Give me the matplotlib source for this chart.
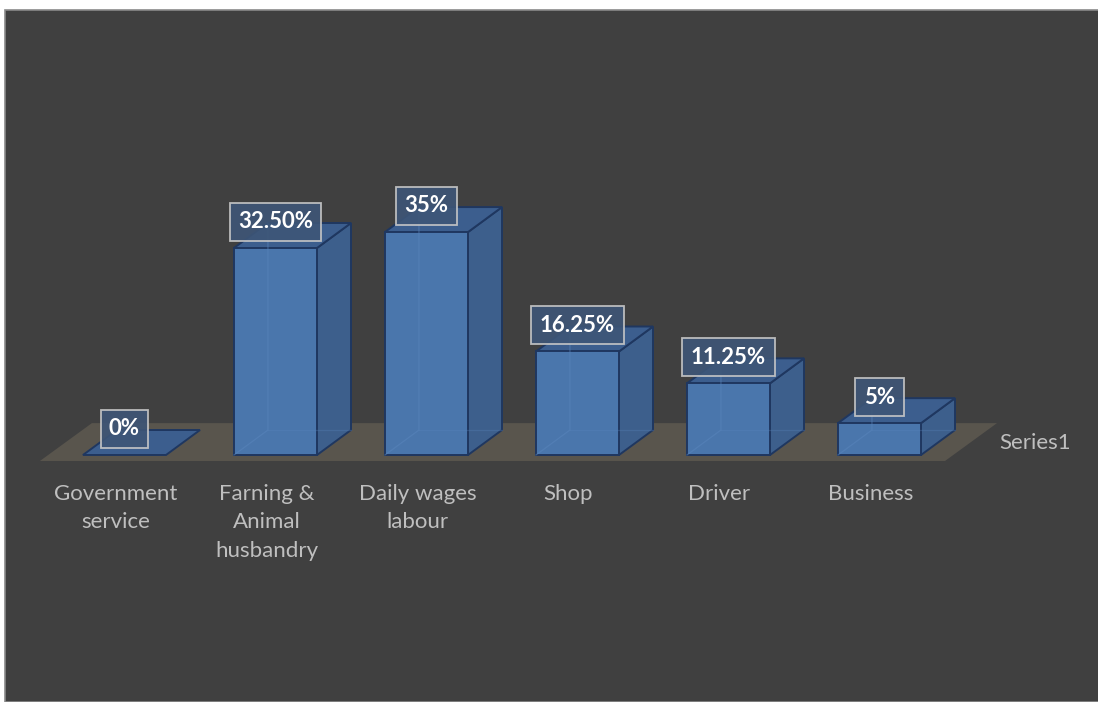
import numpy as np
import matplotlib.pyplot as plt
from matplotlib.patches import Polygon, Rectangle

categories = ["Government\nservice", "Farning &\nAnimal\nhusbandry", "Daily wages\nlabour",
              "Shop", "Driver", "Business"]
values = [0, 32.5, 35, 16.25, 11.25, 5]
value_labels = ["0%", "32.50%", "35%", "16.25%", "11.25%", "5%"]
series_name = "Series1"

plt.rcParams['font.family'] = ['Lato', 'DejaVu Sans']

# box geometry, in data units (x: category slot, y: percent)
half_w = 0.275
depth_x = 0.225
depth_y = 3.92

front_col = '#4a76ac'
side_col = '#3d5f8c'
top_col = '#3c5e8e'
edge_col = '#1f3760'

fig = plt.figure(figsize=(10.98, 7.02), dpi=100, facecolor='white')
# dark chart area with a thin white margin on top / left
fig.patches.append(Rectangle((5 / 1098, 0), 1, (702 - 10) / 702, transform=fig.transFigure,
                             facecolor='#404040', edgecolor='#8a8a8a', linewidth=1.2, zorder=-1))

ax = fig.add_axes([0, 0, 1, 1])
ax.set_xlim(-0.8245, 6.447)
ax.set_ylim(-38.78, 71.43)
ax.set_facecolor('none')
ax.axis('off')

# floor
n = len(values)
floor_front = -0.94
floor_back = 5.0
floor = Polygon([(-0.56, floor_front), (n - 0.566, floor_front),
                 (n - 0.222, floor_back), (-0.216, floor_back)],
                closed=True, facecolor='#59554d', edgecolor='none', zorder=1)
ax.add_patch(floor)

for i, v in enumerate(values):
    x0, x1 = i - half_w, i + half_w
    front = Polygon([(x0, 0), (x1, 0), (x1, v), (x0, v)], closed=True)
    side = Polygon([(x1, 0), (x1 + depth_x, depth_y), (x1 + depth_x, v + depth_y), (x1, v)], closed=True)
    top = Polygon([(x0, v), (x1, v), (x1 + depth_x, v + depth_y), (x0 + depth_x, v + depth_y)], closed=True)
    for p, c in ((side, side_col), (top, top_col), (front, front_col)):
        if v == 0 and p is not top:
            continue
        p.set_facecolor(c)
        p.set_edgecolor(edge_col)
        p.set_linewidth(1.4)
        p.set_zorder(2)
        ax.add_patch(p)
    if v > 0:
        # faint hidden back edges seen through the face
        ax.plot([x0, x0 + depth_x, x0 + depth_x], [0, depth_y, v + depth_y],
                color='#5a86bd', lw=0.9, alpha=0.5, zorder=3)
        ax.plot([x0 + depth_x, x1 + depth_x], [depth_y, depth_y],
                color='#5a86bd', lw=0.9, alpha=0.3, zorder=3)

    ax.text(i, v + 4.1, value_labels[i], ha='center', va='center', fontsize=16,
            fontweight='bold', color='white', zorder=5,
            bbox=dict(boxstyle='square,pad=0.38', facecolor='#3e5677', alpha=0.9,
                      edgecolor='#c8c8c8', linewidth=1.3))

    ax.text(i - 0.06, -4.5, categories[i], ha='center', va='top', fontsize=16,
            color='#bfbfbf', linespacing=1.55, zorder=5)

ax.text(6.03, 1.9, series_name, ha='center', va='center', fontsize=16, color='#bfbfbf')

fig.savefig('out.png', dpi=100, facecolor=fig.get_facecolor())
